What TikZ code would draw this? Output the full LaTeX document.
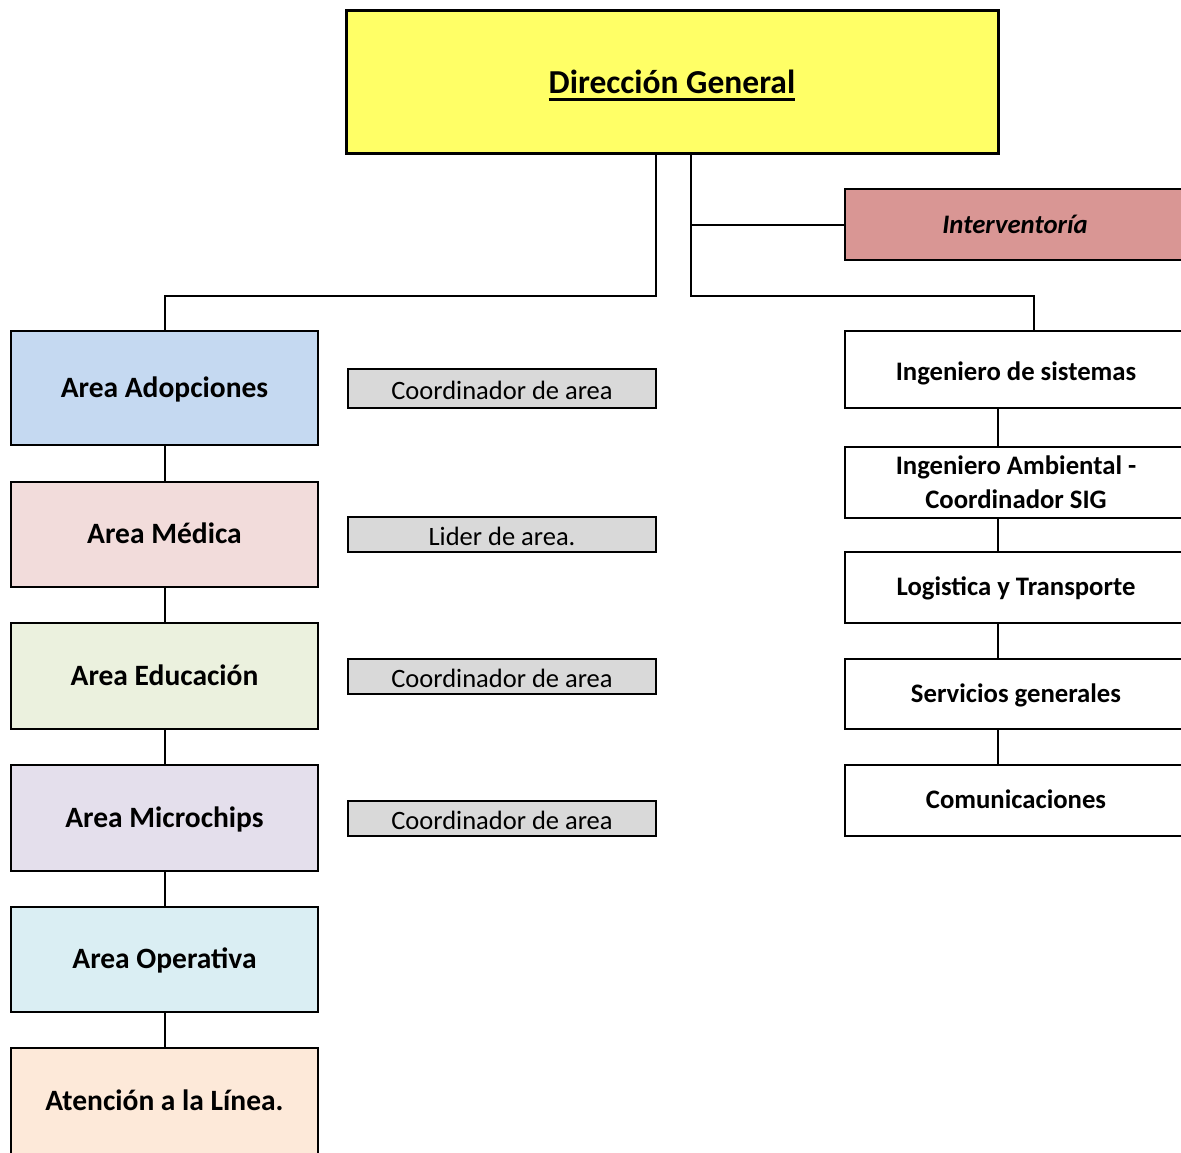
\documentclass[tikz,border=0pt]{standalone}
\usepackage{fontspec}
\setmainfont{Carlito}
\usetikzlibrary{positioning}

\definecolor{dirYellow}{RGB}{255,255,102}
\definecolor{intRose}{RGB}{217,150,148}
\definecolor{adopBlue}{RGB}{197,217,241}
\definecolor{mediPink}{RGB}{242,220,219}
\definecolor{educGreen}{RGB}{235,241,222}
\definecolor{chipLilac}{RGB}{228,223,236}
\definecolor{operCyan}{RGB}{218,238,243}
\definecolor{lineaPeach}{RGB}{253,233,217}
\definecolor{coordGrey}{RGB}{217,217,217}

\newcommand{\subrayado}[1]{\setbox0\hbox{#1}\rlap{\copy0}\rule[-7.5pt]{\wd0}{3pt}}

\begin{document}
\begin{tikzpicture}[x=1pt,y=-1pt,line width=2pt,
    area/.style={draw,line width=2pt,minimum width=307pt,inner sep=0pt,
      text height=18pt,text depth=0pt,
      font=\fontsize{29.5}{34}\selectfont\bfseries},
    cargo/.style={draw,fill=coordGrey,line width=1.6pt,minimum width=308pt,
      inner sep=0pt,text height=22pt,text depth=0pt,
      font=\fontsize{26.5}{30}\selectfont},
    apoyo/.style={draw,line width=2pt,minimum width=342pt,inner sep=0pt,
      align=center,font=\fontsize{26.7}{34}\selectfont\bfseries},
    unalinea/.style={text height=16pt,text depth=0pt}]
    \useasboundingbox (0,0) rectangle (1181,1152);
    \clip (0,0) rectangle (1181,1152);

    % direccion
    \node[draw,fill=dirYellow,line width=3pt,minimum width=652pt,minimum height=143pt,
      text height=31pt,text depth=8pt,
      font=\fontsize{33.5}{40}\selectfont\bfseries] (dg) at (672,81.5) {\subrayado{Dirección General}};
    \node[draw,fill=intRose,line width=2pt,minimum width=340pt,minimum height=71pt,
      font=\fontsize{26.7}{30}\selectfont\bfseries\itshape] (int) at (1015,224.5) {Interventoría};

    % areas
    \node[area,fill=adopBlue,minimum height=114pt] (adop) at (164.5,388) {Area Adopciones};
    \node[area,fill=mediPink,minimum height=105pt] (medi) at (164.5,534.5) {Area Médica};
    \node[area,fill=educGreen,minimum height=106pt] (educ) at (164.5,676) {Area Educación};
    \node[area,fill=chipLilac,minimum height=106pt] (chip) at (164.5,818) {Area Microchips};
    \node[area,fill=operCyan,minimum height=105pt] (oper) at (164.5,959.5) {Area Operativa};
    \node[area,fill=lineaPeach,minimum height=107pt] (linea) at (164.5,1101.5) {Atención a la Línea.};

    % cargos
    \node[cargo,minimum height=39pt] (c1) at (502,388.5) {Coordinador de area};
    \node[cargo,minimum height=35pt] (c2) at (502,534.5) {Lider de area.};
    \node[cargo,minimum height=35pt] (c3) at (502,676.5) {Coordinador de area};
    \node[cargo,minimum height=35pt] (c4) at (502,818.5) {Coordinador de area};

    % apoyo
    \node[apoyo,unalinea,minimum height=77pt,text height=21pt] (sist) at (1016,369.5) {Ingeniero de sistemas};
    \node[apoyo,minimum height=71pt] (amb) at (1016,482.5) {Ingeniero Ambiental -\\Coordinador SIG};
    \node[apoyo,unalinea,minimum height=71pt] (logi) at (1016,587.5) {Logistica y Transporte};
    \node[apoyo,unalinea,minimum height=70pt] (serv) at (1016,694) {Servicios generales};
    \node[apoyo,unalinea,minimum height=71pt] (comu) at (1016,800.5) {Comunicaciones};

    \coordinate (jl) at (656,296);
    \coordinate (jr) at (691,296);
    \coordinate (rt) at (1034,296);
    \coordinate (rc) at (998,0);

    \draw (dg.south -| jl) -- (jl) -| (adop.north);
    \draw (dg.south -| jr) -- (jr) -- (rt) -- (sist.north -| rt);
    \draw (int.west -| jr) -- (int.west);
    \foreach \a/\b in {adop/medi,medi/educ,educ/chip,chip/oper,oper/linea}
      \draw (\a.south) -- (\b.north);
    \foreach \a/\b in {sist/amb,amb/logi,logi/serv,serv/comu}
      \draw (\a.south -| rc) -- (\b.north -| rc);
\end{tikzpicture}
\end{document}
